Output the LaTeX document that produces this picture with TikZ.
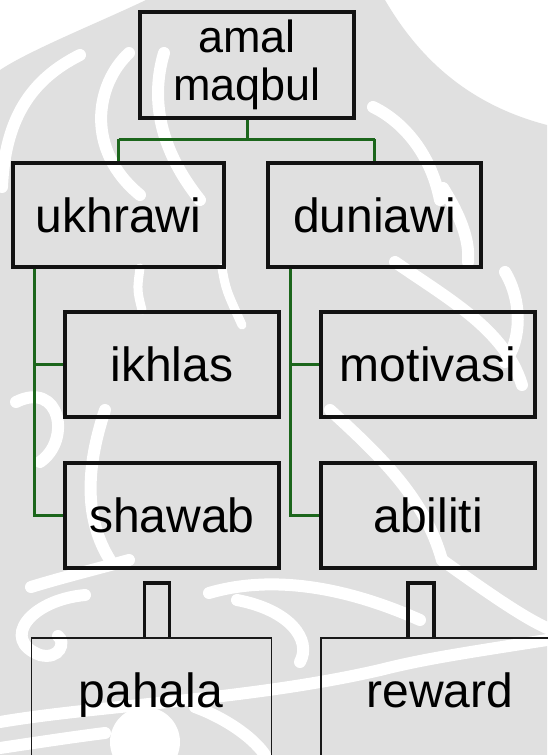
\documentclass[tikz,border=0pt]{standalone}
\usepackage{fontspec}
\setmainfont{Liberation Sans}
\definecolor{treegreen}{RGB}{28,102,28}
\definecolor{wmgrey}{RGB}{224,224,224}
\begin{document}
\begin{tikzpicture}[x=1pt,y=-1pt,
  box/.style={draw=black!93, line width=3.5pt, inner sep=0pt,
    minimum width=214pt, minimum height=105pt,
    font=\fontsize{48}{50}\selectfont, align=center},
  thinbox/.style={draw=black!90, line width=1.5pt, inner sep=0pt,
    minimum width=240pt, minimum height=170pt, anchor=north},
  lbl/.style={inner sep=0pt, anchor=base, font=\fontsize{48}{50}\selectfont},
  tree/.style={draw=treegreen, line width=3pt},
  stem/.style={draw=black!93, line width=3.5pt, line cap=butt, line join=miter},
  swirl/.style={draw=white, line width=12pt, line cap=round}]
\useasboundingbox (0,0) rectangle (547,755);
\fill[white] (0,0) rectangle (547,755);

% faint emblem watermark in the page background
\fill[wmgrey] (0,70) .. controls (30,50) and (100,22) .. (146,0) -- (385,0)
  .. controls (420,60) and (470,105) .. (547,125) -- (547,755) -- (0,755) -- cycle;
\draw[swirl] (2,187) .. controls (5,120) and (30,80) .. (80,55);
\draw[swirl] (129,53) .. controls (95,85) and (85,150) .. (140,195);
\draw[swirl] (164,53) .. controls (150,100) and (160,150) .. (200,200);
\draw[swirl] (373,107) .. controls (400,120) and (430,150) .. (440,200);
\draw[swirl] (443,188) .. controls (460,215) and (470,240) .. (468,262);
\draw[swirl, line width=9pt] (140,268) .. controls (137,290) .. (142,310);
\draw[swirl, line width=9pt] (222,268) .. controls (226,290) .. (242,325);
\draw[swirl] (395,262) .. controls (450,300) and (505,330) .. (522,385);
\draw[swirl] (505,272) .. controls (522,300) and (522,340) .. (505,362);
\draw[swirl] (330,410) .. controls (385,460) and (425,500) .. (442,560);
\draw[swirl] (16,402) .. controls (60,380) and (72,440) .. (40,462);
\draw[swirl] (105,410) .. controls (85,470) and (85,520) .. (110,560);
\draw[swirl] (31,587) .. controls (60,578) and (100,568) .. (129,560);
\draw[swirl] (85,595) .. controls (30,600) and (0,640) .. (40,655)
  .. controls (60,660) and (66,642) .. (58,636);
\draw[swirl] (209,593) .. controls (260,578) and (330,580) .. (420,620);
\draw[swirl] (237,600) .. controls (290,610) and (312,640) .. (300,662);
\draw[swirl] (442,560) .. controls (495,598) and (525,618) .. (547,628);
\draw[swirl] (0,722) .. controls (100,705) and (250,700) .. (380,670)
  .. controls (420,660) and (450,655) .. (547,640);
\draw[swirl] (0,748) .. controls (40,742) and (80,736) .. (105,733);
\draw[swirl] (195,707) .. controls (230,720) and (255,740) .. (265,755);
\fill[white] (145,742) circle[radius=35];

% main hierarchy
\node[box, minimum height=106pt, font=\fontsize{45}{47.4}\selectfont] (top) at (247,65) {amal\\maqbul};
\node[box, minimum width=211pt, minimum height=104pt] (ukh) at (118.5,215) {ukhrawi};
\node[box, minimum width=213pt, minimum height=104pt] (dun) at (374.5,215) {duniawi};
\node[box] (ikh) at (172,364.5) {ikhlas};
\node[box] (mot) at (428,364.5) {motivasi};
\node[box] (sha) at (172,515.5) {shawab};
\node[box] (abi) at (428,515.5) {abiliti};

% lower result boxes
\node[thinbox] (pah) at (151.5,637) {};
\node[thinbox, minimum width=260pt, anchor=north west] (rew) at (320,637) {};
\node[lbl] (pahT) at (151,707) {pahala};
\node[lbl] (rewT) at (440,707) {reward};

% green tree connectors
\coordinate (bar) at (0,139);
\draw[tree] (top.south) -- (top.south |- bar)
  (ukh.north |- bar) -- (dun.north |- bar)
  (ukh.north |- bar) -- (ukh.north)
  (dun.north |- bar) -- (dun.north);
\coordinate (lt) at (34,0);
\coordinate (rt) at (290,0);
\draw[tree] (lt |- ukh.south) -- (lt |- sha.west) -- (sha.west)
  (lt |- ikh.west) -- (ikh.west);
\draw[tree] (rt |- dun.south) -- (rt |- abi.west) -- (abi.west)
  (rt |- mot.west) -- (mot.west);

% hollow stems onto the result boxes
\draw[stem] ([xshift=-7pt]pah.north) -- ++(0,-54) -- ++(25,0) -- ++(0,54);
\draw[stem] ([xshift=88pt]rew.north west) -- ++(0,-54) -- ++(26,0) -- ++(0,54);
\end{tikzpicture}
\end{document}
